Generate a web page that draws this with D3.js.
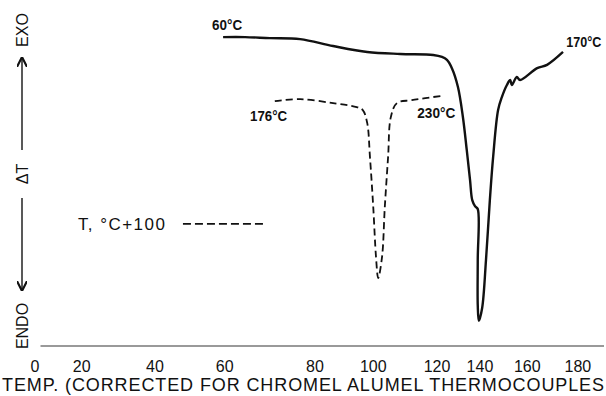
<!DOCTYPE html>
<html>
<head>
<meta charset="utf-8">
<script src="https://cdn.jsdelivr.net/npm/d3@7"></script>
<style>
  body { margin: 0; background: #fff; }
  svg { display: block; }
  .tick-label { font-family: "Liberation Sans", Arial, sans-serif; font-size: 16px; fill: #111; }
  .note { font-family: "Liberation Sans", Arial, sans-serif; font-weight: bold; font-size: 14px; fill: #111; }
  .side { font-family: "Liberation Sans", Arial, sans-serif; font-size: 16px; fill: #111; }
</style>
</head>
<body>
<svg id="chart" width="606" height="396"></svg>
<script>
var svg = d3.select("#chart");
var W = 606, H = 396;

// Temperature tick labels and where they sit on the recorder chart (chart divisions 0-100)
var tempTicks = [0, 20, 40, 60, 80, 100, 120, 140, 160, 180];
var tickDiv   = [0, 8.5, 21.8, 34.5, 50.9, 61.5, 73.1, 80.9, 89.5, 98.7];

// Solid DTA trace: chart division, deltaT (arbitrary units)
var solidDiv = [34.2, 38.2, 42.7, 48.2, 54.2, 60.4, 66.4, 72.4, 74.0, 74.9, 75.8, 76.9, 77.8, 78.5, 79.1, 79.5, 80.0, 80.5, 80.5, 80.5, 80.7, 81.3, 82.0, 82.7, 83.3, 84.2, 84.9, 85.8, 86.4, 86.7, 87.6, 88.2, 91.3, 93.1, 96.0];
var solidDT  = [93.6, 93.6, 93.3, 93.0, 90.9, 89.1, 88.5, 88.2, 87.6, 86.7, 84.2, 78.5, 69.4, 59.4, 50.3, 44.2, 42.4, 41.5, 26.1, 12.4, 7.6, 11.5, 26.1, 44.2, 57.3, 71.5, 75.5, 79.1, 80.6, 79.1, 81.5, 80.6, 84.2, 85.2, 89.1];

// Dashed trace (T, °C + 100)
var dashDiv = [43.6, 48.2, 54.2, 58.5, 59.6, 60.4, 60.9, 61.5, 62.0, 62.4, 63.1, 63.6, 64.2, 64.7, 65.8, 68.5, 74.0];
var dashDT  = [74.2, 74.8, 73.6, 72.4, 71.5, 67.6, 57.3, 42.1, 27.0, 20.6, 27.0, 42.1, 57.3, 69.4, 73.6, 74.5, 75.8];

// Scales
var xScale = d3.scaleLinear().domain([0, 100]).range([35, 585]);
var yScale = d3.scaleLinear().domain([0, 100]).range([346, 16]);

var solidData = solidDiv.map(function(d, i) { return [d, solidDT[i]]; });
var dashData = dashDiv.map(function(d, i) { return [d, dashDT[i]]; });

var line = d3.line()
  .x(function(d) { return xScale(d[0]); })
  .y(function(d) { return yScale(d[1]); })
  .curve(d3.curveCatmullRom.alpha(0.5));

// Baseline
svg.append("line")
  .attr("x1", xScale(1)).attr("x2", W - 2)
  .attr("y1", yScale(0)).attr("y2", yScale(0))
  .style("stroke", "#777").style("stroke-width", 1.4);

// Tick labels
svg.selectAll(".tick-label")
  .data(tempTicks)
  .enter()
  .append("text")
  .attr("class", "tick-label")
  .attr("x", function(d, i) { return xScale(tickDiv[i]); })
  .attr("y", 372)
  .attr("text-anchor", "middle")
  .text(function(d) { return d; });

// Axis title
svg.append("text")
  .attr("x", 2).attr("y", 391)
  .attr("textLength", 602)
  .attr("lengthAdjust", "spacing")
  .style("font-family", "Liberation Sans, Arial, sans-serif")
  .style("font-size", "18px")
  .style("fill", "#111")
  .text("TEMP. (CORRECTED FOR CHROMEL ALUMEL THERMOCOUPLES");

// Traces
svg.append("path")
  .datum(solidData)
  .attr("d", line)
  .style("fill", "none")
  .style("stroke", "#111")
  .style("stroke-width", 2.4)
  .style("stroke-linejoin", "round");

svg.append("path")
  .datum(dashData)
  .attr("d", line)
  .style("fill", "none")
  .style("stroke", "#111")
  .style("stroke-width", 1.8)
  .style("stroke-dasharray", "7,4");

// Temperature notes (condensed to the width they take in the original)
var notes = [
  { t: "60°C",  d: 32.2, v: 95.8, w: 30 },
  { t: "176°C", d: 39.1, v: 68.2, w: 37 },
  { t: "230°C", d: 69.5, v: 69.1, w: 38 },
  { t: "170°C", d: 96.6, v: 90.6, w: 35 }
];
svg.selectAll(".note")
  .data(notes)
  .enter()
  .append("text")
  .attr("class", "note")
  .attr("x", function(d) { return xScale(d.d); })
  .attr("y", function(d) { return yScale(d.v); })
  .attr("textLength", function(d) { return d.w; })
  .attr("lengthAdjust", "spacingAndGlyphs")
  .text(function(d) { return d.t; });

// Legend
svg.append("text")
  .attr("x", xScale(7.8)).attr("y", yScale(35.2))
  .attr("textLength", 87)
  .attr("lengthAdjust", "spacing")
  .style("font-family", "Liberation Sans, Arial, sans-serif")
  .style("font-size", "17px")
  .style("fill", "#111")
  .text("T, °C+100");
svg.append("line")
  .attr("x1", xScale(26.9)).attr("x2", xScale(41.8))
  .attr("y1", yScale(37)).attr("y2", yScale(37))
  .style("stroke", "#111").style("stroke-width", 1.8)
  .style("stroke-dasharray", "8,4");

// Left EXO / ENDO indicator
var axX = 22;
svg.append("defs").append("marker")
  .attr("id", "head")
  .attr("viewBox", "0 0 10 10")
  .attr("refX", 9).attr("refY", 5)
  .attr("markerWidth", 7).attr("markerHeight", 7)
  .attr("orient", "auto")
  .append("path")
  .attr("d", "M0,0 L10,5 L0,10")
  .style("fill", "none").style("stroke", "#111").style("stroke-width", 2);

svg.append("line")
  .attr("x1", axX).attr("x2", axX).attr("y1", 150).attr("y2", 58)
  .style("stroke", "#222").style("stroke-width", 1.5)
  .attr("marker-end", "url(#head)");
svg.append("line")
  .attr("x1", axX).attr("x2", axX).attr("y1", 198).attr("y2", 290)
  .style("stroke", "#222").style("stroke-width", 1.5)
  .attr("marker-end", "url(#head)");

var sideLabels = [{ t: "EXO", y: 30 }, { t: "\u0394T", y: 174 }, { t: "ENDO", y: 326 }];
svg.selectAll(".side")
  .data(sideLabels)
  .enter()
  .append("text")
  .attr("class", "side")
  .attr("text-anchor", "middle")
  .attr("transform", function(d) { return "translate(" + (axX + 6) + "," + d.y + ") rotate(-90)"; })
  .text(function(d) { return d.t; });
</script>
</body>
</html>
